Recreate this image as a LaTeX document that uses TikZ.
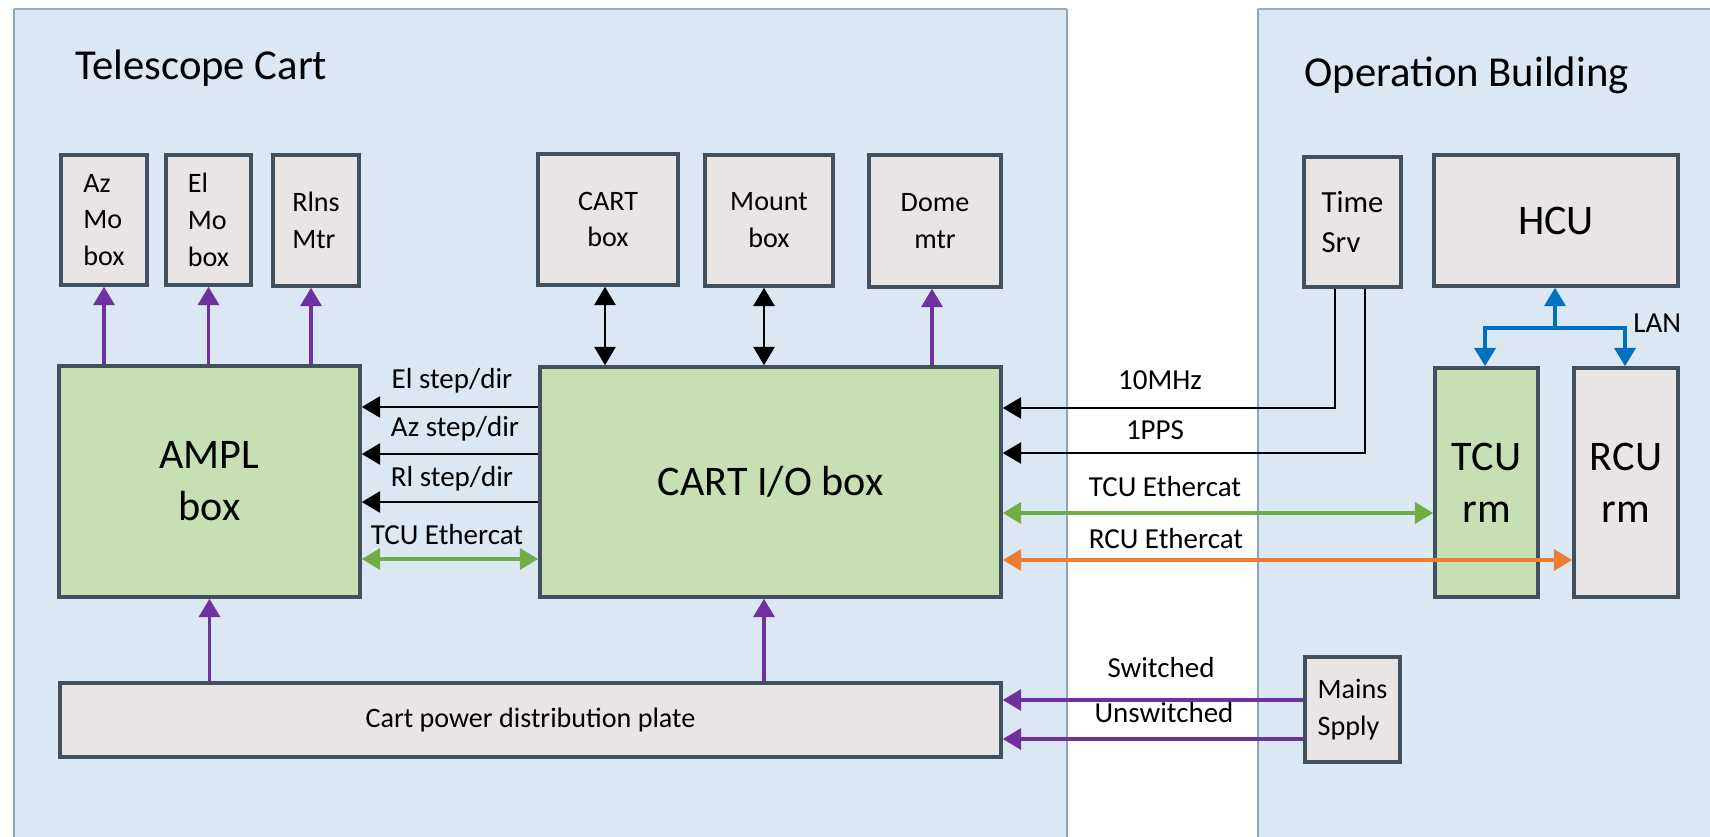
\documentclass[tikz,border=0pt]{standalone}
\usepackage{fontspec}
\setmainfont{Carlito}
\usetikzlibrary{arrows.meta,calc}
\definecolor{panelfill}{RGB}{220,231,244}
\definecolor{panelline}{RGB}{140,165,190}
\definecolor{paneltop}{RGB}{160,172,186}
\definecolor{boxgray}{RGB}{233,229,229}
\definecolor{boxline}{RGB}{66,80,94}
\definecolor{boxgreen}{RGB}{198,224,180}
\definecolor{cpurple}{RGB}{112,48,160}
\definecolor{cgreen}{RGB}{112,173,71}
\definecolor{corange}{RGB}{237,125,49}
\definecolor{cblue}{RGB}{0,112,192}
\newcommand\myfsmall{\fontsize{16}{21}\selectfont}
\newcommand\myftime{\fontsize{17.5}{23}\selectfont}
\newcommand\myfbig{\fontsize{24}{29.5}\selectfont}
\newcommand\myflbl{\fontsize{16.5}{20}\selectfont}
\newcommand\myftitle{\fontsize{24.3}{28}\selectfont}
\tikzset{
  >={Triangle[length=10.5pt,width=12pt]},
  sz/.style 2 args={minimum width=#1*0.02cm, minimum height=#2*0.02cm},
  box/.style={draw=boxline, line width=2pt, fill=boxgray, inner sep=0pt, align=left, font=\myfsmall},
  cbox/.style={box, align=center},
  bigbox/.style={box, align=center, font=\myfbig},
  gbox/.style={bigbox, fill=boxgreen},
  lbl/.style={font=\myflbl, inner sep=0pt, anchor=base},
  ttl/.style={font=\myftitle, inner sep=0pt, anchor=base west},
  parr/.style={draw=cpurple, line width=2pt, ->},
  barr/.style={draw=black, line width=1.6pt, ->},
  bdbl/.style={draw=black, line width=1.6pt, <->},
  gdbl/.style={draw=cgreen, line width=2pt, <->},
  odbl/.style={draw=corange, line width=2pt, <->},
  blu/.style={draw=cblue, line width=2.2pt},
}
\begin{document}
\begin{tikzpicture}[x=0.02cm,y=-0.02cm]
\useasboundingbox (0,0) rectangle (1710,837);
\clip (0,0) rectangle (1710,837);
\fill[white] (0,0) rectangle (1710,837);
% panels
\fill[panelfill] (14,9) rectangle (1067,860);
\fill[panelfill] (1258,9) rectangle (1730,860);
\draw[panelline, line width=0.8pt] (14,860) -- (14,9) (1067,9) -- (1067,860) (1258,860) -- (1258,9);
\draw[paneltop, line width=1.6pt] (14,9) -- (1067,9) (1258,9) -- (1730,9);
% titles
\node[ttl] (tcart) at (75,80) {Telescope Cart};
\node[ttl] (tob) at (1304,87) {Operation Building};
% top row boxes
\node[box, sz={86}{130}] (az) at (104,220) {Az\\Mo\\box};
\node[box, sz={85}{130}] (el) at (208.5,220) {El\\Mo\\box};
\node[box, sz={86}{131}] (rl) at (316,220.5) {Rlns\\Mtr};
\node[cbox, sz={140}{131}] (cartbox) at (608,219.5) {CART\\box};
\node[cbox, sz={128}{131}] (mount) at (769,220.5) {Mount\\box};
\node[cbox, sz={132}{132}] (dome) at (935,221) {Dome\\mtr};
\node[box, font=\myftime, sz={97}{130}] (time) at (1352.5,222) {Time\\Srv};
\node[bigbox, sz={244}{131}] (hcu) at (1556,220.5) {HCU};
% middle row
\node[gbox, sz={301}{231}] (ampl) at (209.5,481.5) {AMPL\\box};
\node[gbox, sz={461}{230}] (cartio) at (770.5,482) {CART I/O box};
\node[gbox, sz={103}{229}] (tcu) at (1486.5,482.5) {TCU\\rm};
\node[bigbox, sz={104}{229}] (rcu) at (1626,482.5) {RCU\\rm};
% bottom row
\node[cbox, sz={941}{74}] (plate) at (530.5,720) {Cart power distribution plate};
\node[box, sz={95}{105}] (mains) at (1352.5,709.5) {Mains\\Spply};
% purple arrows to top boxes
\draw[parr] (az.south |- ampl.north) -- (az.south);
\draw[parr] (el.south |- ampl.north) -- (el.south);
\draw[parr] (ampl.north -| 311,0) -- (rl.south -| 311,0);
\draw[parr] (cartio.north -| 932,0) -- (dome.south -| 932,0);
% black double arrows
\draw[bdbl] (cartbox.south -| 605,0) -- (cartio.north -| 605,0);
\draw[bdbl] (mount.south -| 764,0) -- (cartio.north -| 764,0);
% step/dir
\draw[barr] (cartio.west |- 0,407) -- (ampl.east |- 0,407);
\draw[barr] (cartio.west |- 0,454) -- (ampl.east |- 0,454);
\draw[barr] (cartio.west |- 0,502) -- (ampl.east |- 0,502);
\draw[gdbl] (ampl.east |- 0,559) -- (cartio.west |- 0,559);
\node[lbl] (lel) at (452,389) {El step/dir};
\node[lbl] (laz) at (455,437) {Az step/dir};
\node[lbl] (lrl) at (452,486) {Rl step/dir};
\node[lbl] (ltcu1) at (447,544) {TCU Ethercat};
% power
\draw[parr] (plate.north -| ampl.south) -- (ampl.south);
\draw[parr] (plate.north -| 764,0) -- (cartio.south -| 764,0);
% time server
\draw[barr] ($(time.south)+(-17.5,0)$) |- (cartio.east |- 0,408);
\draw[barr] ($(time.south)+(12.5,0)$) |- (cartio.east |- 0,453);
\node[lbl] (l10) at (1160,390) {10MHz};
\node[lbl] (lpps) at (1155,440) {1PPS};
% ethercat right
\draw[gdbl] (cartio.east |- 0,513) -- (tcu.west |- 0,513);
\node[lbl] (ltcu2) at (1165,497) {TCU Ethercat};
\draw[odbl] (cartio.east |- 0,560) -- (rcu.west |- 0,560);
\node[lbl] (lrcu) at (1166,548) {RCU Ethercat};
% LAN
\coordinate (lan) at (1555,328);
\draw[blu, ->] (lan) -- (hcu.south -| lan);
\draw[blu, <->] (tcu.north -| 1485,0) -- (1485,328) -- (1625,328) -- (rcu.north -| 1625,0);
\node[lbl, anchor=base west] (llan) at (1633,333) {LAN};
% mains
\draw[parr] (mains.west |- 0,700) -- (plate.east |- 0,700);
\draw[parr] (mains.west |- 0,739) -- (plate.east |- 0,739);
\node[lbl] (lsw) at (1161,677) {Switched};
\node[lbl] (lusw) at (1164,722) {Unswitched};
\end{tikzpicture}
\end{document}
